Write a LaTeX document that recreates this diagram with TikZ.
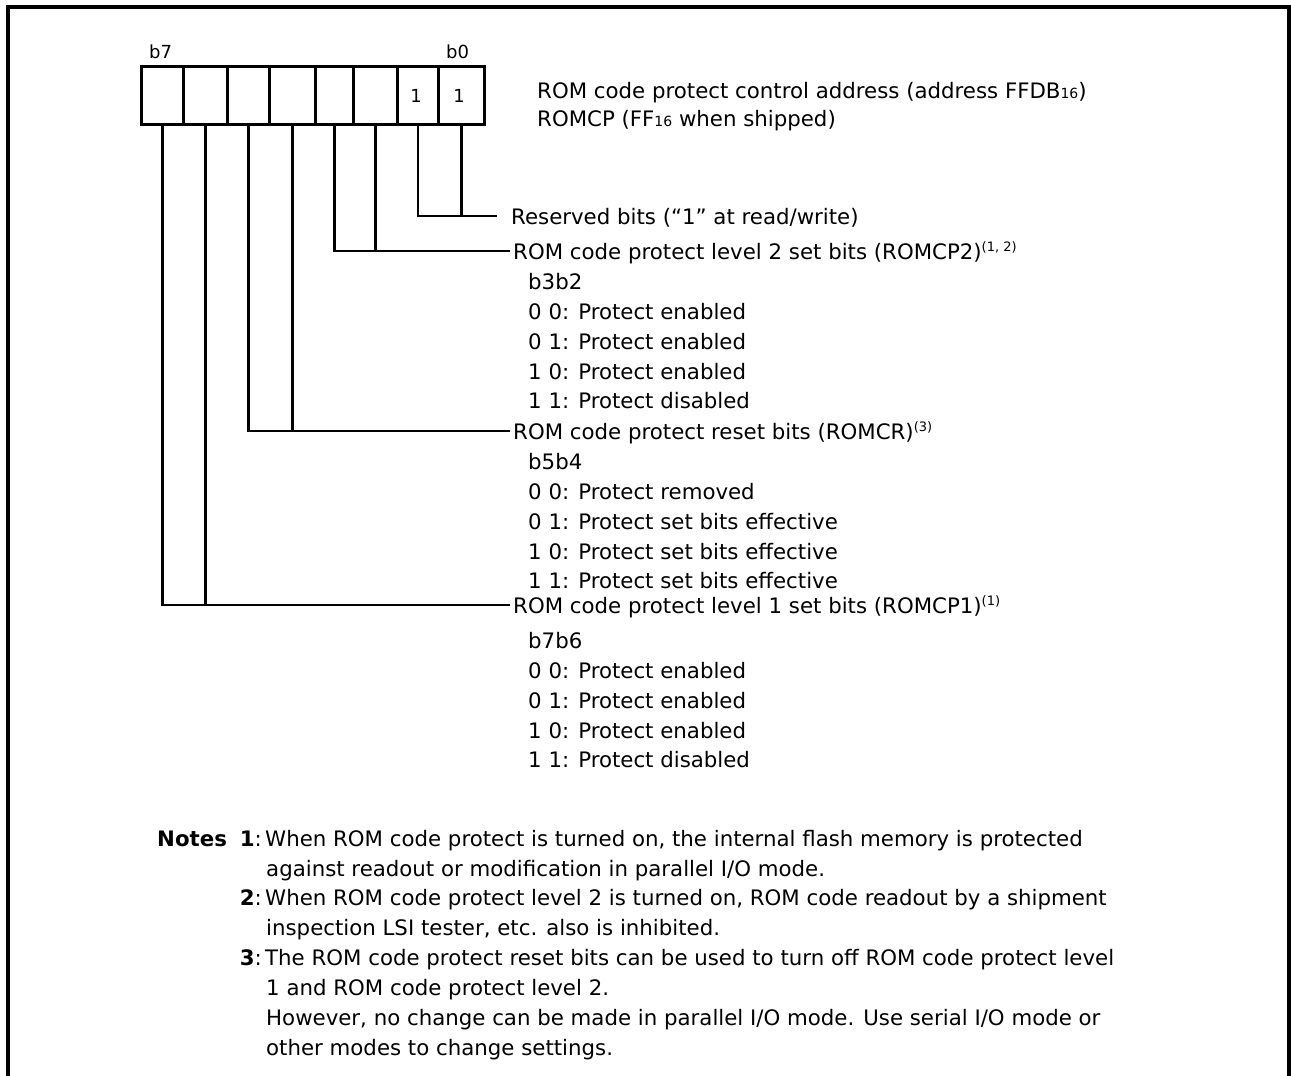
\documentclass[tikz,border=0pt]{standalone}
\usepackage{fontspec}
\setmainfont{DejaVu Sans}
\newcommand\mainfs{\fontsize{21.3}{26}\selectfont}
\newcommand\smallfs{\fontsize{18}{20}\selectfont}
\newcommand\supfs{\fontsize{13}{14}\selectfont}
\newcommand\supx[1]{\raisebox{8pt}{\supfs #1}}
\newcommand\subx[1]{{\fontsize{14}{14}\selectfont #1}}
\begin{document}
\begin{tikzpicture}[x=1pt,y=-1pt,
  lbl/.style={anchor=base west, inner sep=0pt, font=\mainfs},
  rlbl/.style={anchor=base east, inner sep=0pt, font=\mainfs},
  smalllbl/.style={anchor=base, inner sep=0pt, font=\smallfs},
  cell/.style={draw, line width=2.5pt, minimum height=58pt, inner sep=0pt, anchor=north west},
  conn/.style={line width=2.5pt},
  frameline/.style={line width=3.5pt}]
\useasboundingbox (0,0) rectangle (1291,1076);
% outer frame (bottom open)
\draw[frameline] (8,1076) -- (8,7) -- (1289,7) -- (1289,1076);
% register cells
\node[cell, minimum width=42pt] (c7) at (140,65) {};
\node[cell, minimum width=44pt] (c6) at (182,65) {};
\node[cell, minimum width=42pt] (c5) at (226,65) {};
\node[cell, minimum width=46pt] (c4) at (268,65) {};
\node[cell, minimum width=38pt] (c3) at (314,65) {};
\node[cell, minimum width=44pt] (c2) at (352,65) {};
\node[cell, minimum width=41pt] (c1) at (396,65) {};
\node[cell, minimum width=46pt] (c0) at (437,65) {};
\node[smalllbl] (one1) at (416,102) {1};
\node[smalllbl] (one0) at (459,102) {1};
\node[smalllbl, anchor=base west] (b7) at (149,58) {b7};
\node[smalllbl, anchor=base west] (b0) at (446,58) {b0};
% header
\node[lbl] (h1) at (537,98) {ROM code protect control address (address FFDB\subx{16})};
\node[lbl] (h2) at (537,126) {ROMCP (FF\subx{16} when shipped)};
% connectors
\coordinate (e0) at (497,216);
\coordinate (e1) at (510,251);
\coordinate (e2) at (510,431);
\coordinate (e3) at (510,605);
\draw[conn] (c1.south) |- (e0);
\draw[conn] (c0.south) -- (c0.south |- e0);
\draw[conn] (c3.south) |- (e1);
\draw[conn] (c2.south) -- (c2.south |- e1);
\draw[conn] (c5.south) |- (e2);
\draw[conn] (c4.south) -- (c4.south |- e2);
\draw[conn] (c7.south) |- (e3);
\draw[conn] (c6.south) -- (c6.south |- e3);
% labels
\node[lbl] (lres) at (511,224) {Reserved bits (“1” at read/write)};
\node[lbl] (lcp2) at (513,259) {ROM code protect level 2 set bits (ROMCP2)\supx{(1, 2)}};
\node[lbl] (s20) at (528,289) {b3b2};
\node[lbl] (s21) at (528,319) {0 0: Protect enabled};
\node[lbl] (s22) at (528,349) {0 1: Protect enabled};
\node[lbl] (s23) at (528,379) {1 0: Protect enabled};
\node[lbl] (s24) at (528,408) {1 1: Protect disabled};
\node[lbl] (lcr) at (513,439) {ROM code protect reset bits (ROMCR)\supx{(3)}};
\node[lbl] (s30) at (528,469) {b5b4};
\node[lbl] (s31) at (528,499) {0 0: Protect removed};
\node[lbl] (s32) at (528,529) {0 1: Protect set bits effective};
\node[lbl] (s33) at (528,559) {1 0: Protect set bits effective};
\node[lbl] (s34) at (528,588) {1 1: Protect set bits effective};
\node[lbl] (lcp1) at (513,613) {ROM code protect level 1 set bits (ROMCP1)\supx{(1)}};
\node[lbl] (s40) at (528,648) {b7b6};
\node[lbl] (s41) at (528,678) {0 0: Protect enabled};
\node[lbl] (s42) at (528,708) {0 1: Protect enabled};
\node[lbl] (s43) at (528,738) {1 0: Protect enabled};
\node[lbl] (s44) at (528,767) {1 1: Protect disabled};
% notes
\node[lbl, font=\mainfs\bfseries] (notes) at (157,846) {Notes};
\node[rlbl] (n1) at (262,846) {\textbf{1}:};
\node[lbl] (n1a) at (265,846) {When ROM code protect is turned on, the internal flash memory is protected};
\node[lbl] (n1b) at (266,876) {against readout or modification in parallel I/O mode.};
\node[rlbl] (n2) at (262,905) {\textbf{2}:};
\node[lbl] (n2a) at (265,905) {When ROM code protect level 2 is turned on, ROM code readout by a shipment};
\node[lbl] (n2b) at (266,935) {inspection LSI tester, etc. also is inhibited.};
\node[rlbl] (n3) at (262,965) {\textbf{3}:};
\node[lbl] (n3a) at (265,965) {The ROM code protect reset bits can be used to turn off ROM code protect level};
\node[lbl] (n3b) at (266,995) {1 and ROM code protect level 2.};
\node[lbl] (n3c) at (266,1025) {However, no change can be made in parallel I/O mode. Use serial I/O mode or};
\node[lbl] (n3d) at (266,1055) {other modes to change settings.};
\end{tikzpicture}
\end{document}
